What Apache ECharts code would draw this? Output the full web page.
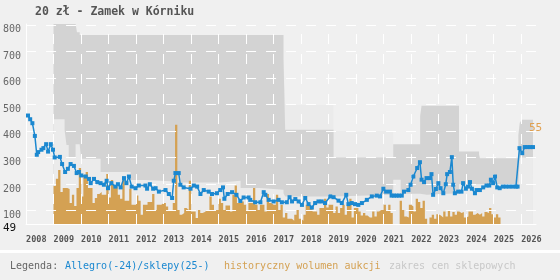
<!DOCTYPE html>
<html>
<head>
<meta charset="utf-8">
<script src="https://cdn.jsdelivr.net/npm/echarts@6/dist/echarts.min.js"></script>
<style>
  html, body { margin: 0; padding: 0; background: #f0f0f0; }
  #chart { width: 560px; height: 280px; }
</style>
</head>
<body>
<div id="chart"></div>
<script>
// Allegro/shop price, [year, zł]
const pricePoints = [
  [2008.07, 458], [2008.15, 444], [2008.23, 429], [2008.32, 381], [2008.39, 310], [2008.44, 320],
  [2008.56, 329], [2008.63, 335], [2008.73, 350], [2008.80, 322], [2008.90, 350], [2008.98, 329],
  [2009.04, 300], [2009.23, 302], [2009.31, 275], [2009.42, 245], [2009.52, 257], [2009.62, 275],
  [2009.74, 268], [2009.84, 241], [2009.92, 245], [2010.01, 232], [2010.17, 228], [2010.29, 219],
  [2010.35, 203], [2010.47, 219], [2010.59, 207], [2010.71, 203], [2010.83, 197], [2010.93, 212],
  [2010.98, 184], [2011.10, 203], [2011.25, 190], [2011.34, 199], [2011.44, 187], [2011.56, 222],
  [2011.65, 203], [2011.74, 228], [2011.84, 190], [2011.98, 184], [2012.10, 194], [2012.34, 194],
  [2012.40, 182], [2012.50, 199], [2012.62, 182], [2012.71, 184], [2012.83, 171], [2013.07, 177],
  [2013.19, 162], [2013.31, 147], [2013.37, 212], [2013.43, 241], [2013.55, 241], [2013.61, 197],
  [2013.73, 187], [2013.98, 182], [2014.10, 194], [2014.22, 190], [2014.34, 162], [2014.46, 177],
  [2014.64, 171], [2014.76, 162], [2014.94, 165], [2015.06, 177], [2015.16, 187], [2015.21, 144],
  [2015.33, 162], [2015.49, 169], [2015.65, 159], [2015.79, 136], [2015.91, 149], [2016.09, 149],
  [2016.15, 140], [2016.33, 131], [2016.52, 131], [2016.64, 169], [2016.70, 159], [2016.82, 140],
  [2017.00, 134], [2017.18, 140], [2017.30, 131], [2017.48, 131], [2017.58, 150], [2017.67, 134],
  [2017.79, 143], [2017.91, 134], [2018.03, 121], [2018.15, 147], [2018.27, 124], [2018.39, 111],
  [2018.51, 128], [2018.63, 134], [2018.75, 134], [2018.87, 128], [2019.06, 153], [2019.18, 150],
  [2019.36, 137], [2019.48, 128], [2019.64, 159], [2019.72, 124], [2019.84, 128], [2019.96, 124],
  [2020.08, 121], [2020.21, 128], [2020.39, 140], [2020.57, 153], [2020.75, 156], [2020.87, 153],
  [2020.99, 182], [2021.09, 171], [2021.23, 171], [2021.29, 156], [2021.38, 156], [2021.47, 156],
  [2021.56, 156], [2021.66, 156], [2021.74, 171], [2021.90, 177], [2021.98, 197], [2022.08, 228],
  [2022.22, 260], [2022.32, 282], [2022.38, 216], [2022.47, 207], [2022.56, 222], [2022.68, 222],
  [2022.74, 237], [2022.80, 159], [2022.90, 181], [2022.99, 203], [2023.07, 184], [2023.17, 165],
  [2023.26, 199], [2023.31, 237], [2023.41, 245], [2023.48, 301], [2023.53, 197], [2023.59, 165],
  [2023.71, 171], [2023.83, 171], [2023.89, 203], [2023.99, 182], [2024.07, 190], [2024.14, 207],
  [2024.21, 182], [2024.32, 165], [2024.38, 177], [2024.50, 177], [2024.62, 187], [2024.74, 194],
  [2024.84, 194], [2024.90, 216], [2024.98, 203], [2025.05, 228], [2025.13, 187], [2025.22, 184],
  [2025.33, 190], [2025.45, 190], [2025.57, 190], [2025.69, 190], [2025.81, 190], [2025.87, 190],
  [2025.94, 335], [2026.04, 316], [2026.13, 339], [2026.23, 339], [2026.33, 339], [2026.43, 339]
];

// monthly auction volume from Jan 2009 (relative units), null = no data
const volumeStart = 2009;
const volume = [
  19, 22.6, 27, 16, 18, 18, 17.5, 10.5, 14.6, 9, 18, 28,
  13.7, 24.6, 26, 18, 18, 10.5, 13, 15, 16, 14.6, 14.6, 25,
  13.2, 22, 19.6, 18.7, 14.6, 12.6, 23, 11.6, 11.6, 17.6, 9.6, 9.6,
  14.3, 11.6, 4.6, 9.6, 9.6, 11, 11, 15, 7, 9.6, 9.6, 10.5,
  10.5, 8.8, 7, 7, 10.5, 49.6, 7, 4.6, 5.5, 8, 7, 21.6,
  6.3, 6.3, 3, 7, 5.5, 6, 7, 7, 13.7, 9.6, 7, 7,
  12.6, 10.5, 7, 9.3, 9.3, 6.3, 14.6, 19.2, 10.5, 11.2, 11.2, 9.6,
  7, 10.5, 10.5, 18, 9.6, 7, 9.6, 9.6, 6.3, 15, 10.5, 9.6,
  9.6, 14.6, 7, 9.6, 3.3, 5.5, 2.6, 2.6, 1.6, 4.6, 7, 2.6,
  1.6, 4.6, 9.6, 9.6, 8, 6.3, 6.3, 4.6, 8, 8, 12.6, 8.3,
  9.6, 9.6, 5.5, 8.8, 5.5, 8, 9.6, 4.6, 9.6, 12.6, 3.3, 8,
  8, 6.3, 4.3, 5.5, 4.3, 3.3, 3.3, 6.3, 3.8, 6.3, 7, 7,
  9.6, 7, 9.6, 5.5, null, null, null, 11.6, 7, 3.8, 3.3, 9.6,
  8.8, 6.3, 12.6, 11, 8, 11.6, 2.6, null, 3.3, 4.6, 2.6, 4.9,
  4.3, 3.3, 6.3, 3.8, 7, 3.8, 6, 4.6, 6.3, 5.5, 6, 3.3,
  3.8, 6.3, 6.3, 4.6, 5.5, 4.6, 5.5, 3.8, 6, 5.5, 8, 4.9,
  3.3, 4.9, 3.3
];

// shop price range (step changes)
const shopYears = [2009.0, 2009.4, 2009.47, 2009.55, 2009.8, 2009.85, 2009.95, 2010.0, 2010.71, 2011.8,
  2012.3, 2013.25, 2013.37, 2013.61, 2015.07, 2015.8, 2016.5, 2017.36, 2017.42, 2019.18,
  2021.35, 2021.62, 2022.33, 2022.38, 2022.57, 2023.74, 2024.47, 2024.5, 2025.9, 2025.95,
  2026.02, 2026.43];
const shopMax = [805, 805, 805, 805, 805, 772, 762, 762, 762, 762,
  762, 762, 762, 762, 762, 762, 762, 668, 404, 300,
  350, 350, 457, 495, 495, 322, 310, 297, 385, 430,
  442, 442];
const shopMin = [444, 404, 347, 300, 350, 350, 350, 295, 245, 215,
  210, 205, 232, 205, 212, 185, 178, 165, 153, 159,
  216, 163, 159, 159, 165, 200, 200, 200, 200, 300,
  300, 300];
const shopOuter = [805, 805, 805, 805, 805, 772, 762, 762, 762, 762,
  762, 762, 762, 762, 762, 762, 762, 668, 498, 400,
  350, 350, 457, 495, 495, 322, 310, 297, 385, 430,
  442, 442];

const zip = (xs, ys) => xs.map((x, i) => [x, ys[i]]);

// each month becomes a flat block
const volumeData = [];
volume.forEach((v, i) => {
  const t = volumeStart + i / 12;
  if (v === null) {
    volumeData.push([t, null]);
  } else {
    volumeData.push([t, v], [t + 1 / 12, v]);
  }
});

const chart = echarts.init(document.getElementById("chart"));
const mono = "DejaVu Sans Mono";

// areas sit under the axes (axis z is 0), price line above
const bandSeries = (data, color, z) => ({
  type: "line",
  step: "end",
  data: data,
  symbol: "none",
  lineStyle: { width: 0 },
  areaStyle: { color: color, opacity: 1, origin: "start" },
  z: z,
  silent: true,
});

chart.setOption({
  animation: false,
  backgroundColor: "#f0f0f0",
  grid: { left: 25, right: 24, top: 24, height: 200 },
  xAxis: {
    type: "value",
    min: 2008,
    max: 2026.54,
    interval: 1,
    axisLine: { lineStyle: { color: "#ffffff" } },
    axisTick: { show: false },
    axisLabel: {
      showMinLabel: true,
      showMaxLabel: false,
      align: "left",
      margin: 11,
      color: "#555",
      fontFamily: mono,
      fontWeight: "bold",
      fontSize: 8.5,
      formatter: (v) => String(v),
    },
    splitLine: {
      show: true,
      showMaxLine: false,
      lineStyle: { color: "#ffffff", type: [10, 10], dashOffset: 10 },
    },
  },
  yAxis: [
    {
      type: "value",
      min: 49,
      max: 803,
      splitNumber: 8,
      axisLine: { show: true, lineStyle: { color: "#ffffff" } },
      axisTick: { show: false },
      axisLabel: {
        showMinLabel: false,
        showMaxLabel: false,
        margin: 5,
        color: "#666",
        fontFamily: mono,
        fontSize: 10,
        verticalAlign: "top",
      },
      splitLine: {
        show: true,
        showMinLine: false,
        showMaxLine: false,
        lineStyle: { color: "#ffffff", type: [10, 10] },
      },
    },
    { type: "value", min: 0, max: 100, show: false, splitLine: { show: false } },
  ],
  series: [
    bandSeries(zip(shopYears, shopOuter), "#ebebeb", -4),
    bandSeries(zip(shopYears, shopMax), "#d3d3d3", -3),
    bandSeries(zip(shopYears, shopMin), "#ebebeb", -2),
    {
      type: "line",
      yAxisIndex: 1,
      data: volumeData,
      symbol: "none",
      lineStyle: { width: 0 },
      areaStyle: { color: "#d4a153", opacity: 1, origin: "start" },
      z: -1,
      silent: true,
    },
    {
      type: "line",
      data: pricePoints,
      symbol: "rect",
      symbolSize: 4,
      color: "#1b88d0",
      lineStyle: { color: "#1b88d0", width: 1.5 },
      itemStyle: { color: "#1b88d0" },
      z: 5,
      silent: true,
    },
  ],
  graphic: [
    {
      type: "text", left: 35, top: 6,
      style: { text: "20 zł - Zamek w Kórniku", fill: "#555", font: "bold 11.5px " + mono },
    },
    {
      type: "text", left: 3, top: 223,
      style: { text: "49", fill: "#111", font: "11px " + mono },
    },
    {
      type: "text", left: 529, top: 123,
      style: { text: "55", fill: "#e0a050", font: "11px " + mono },
    },
    {
      type: "rect", left: 0, top: 250,
      shape: { width: 560, height: 3 },
      style: { fill: "#ffffff" },
    },
    {
      type: "text", left: 10, top: 261,
      style: { text: "Legenda:", fill: "#666", font: "10px " + mono },
    },
    {
      type: "text", left: 65, top: 261,
      style: { text: "Allegro(-24)/sklepy(25-)", fill: "#1b88d0", font: "10px " + mono },
    },
    {
      type: "text", left: 224, top: 261,
      style: { text: "historyczny wolumen aukcji", fill: "#d4a153", font: "10px " + mono },
    },
    {
      type: "text", left: 389, top: 261,
      style: { text: "zakres cen sklepowych", fill: "#c8c8c8", font: "10px " + mono },
    },
  ],
});
</script>
</body>
</html>
